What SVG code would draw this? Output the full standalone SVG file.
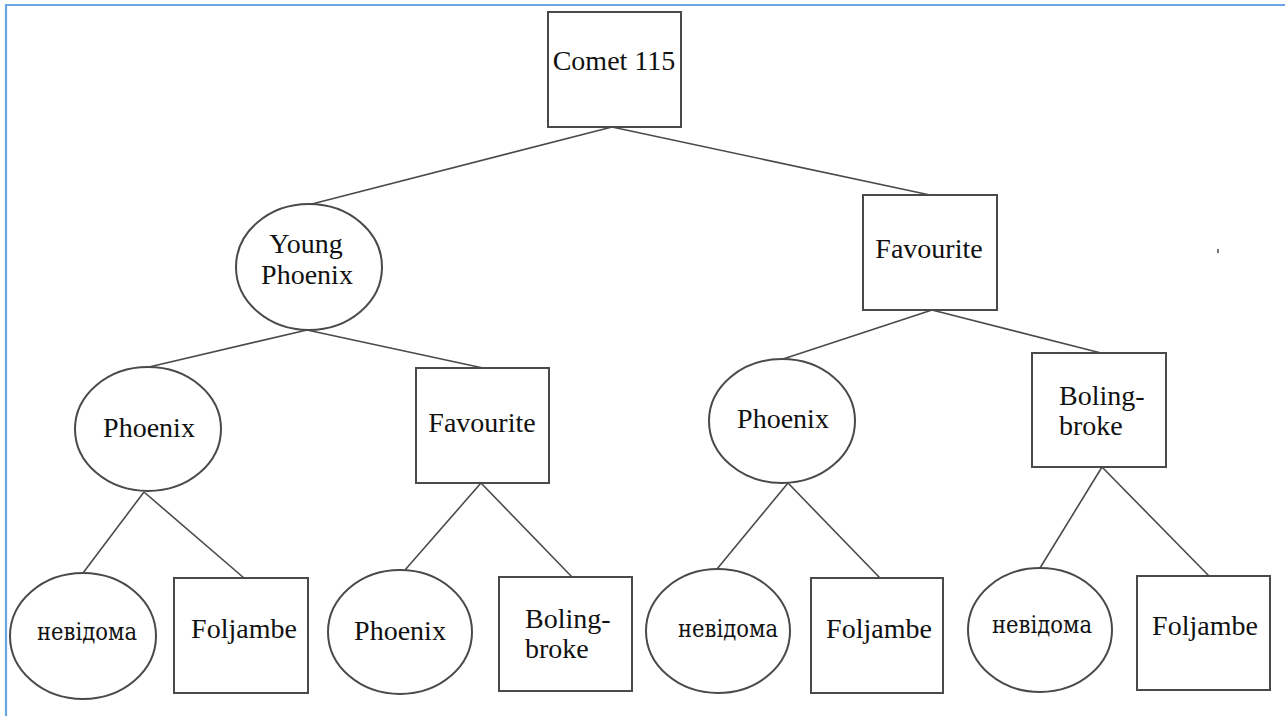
<svg xmlns="http://www.w3.org/2000/svg" width="1285" height="716" viewBox="0 0 1285 716">
<style>
.n{fill:#fff;stroke:#4a4a4a;stroke-width:2}
.t{font-family:"Liberation Serif","Times New Roman",serif;font-size:28px;fill:#111}
.c{text-anchor:middle}
.u{font-family:"DejaVu Serif","Liberation Serif",serif;font-size:24px;fill:#111;text-anchor:middle}
.e{stroke:#4a4a4a;stroke-width:1.6;fill:none}
</style>
<rect width="1285" height="716" fill="#fff"/>
<path d="M6 716 V5 H1285" fill="none" stroke="#6aa6e4" stroke-width="2.2"/>
<g id="connectors">
<line class="e" x1="612" y1="127" x2="308" y2="205"/>
<line class="e" x1="612" y1="127" x2="930" y2="195"/>
<line class="e" x1="307" y1="330" x2="149" y2="367"/>
<line class="e" x1="307" y1="330" x2="483" y2="368"/>
<line class="e" x1="932" y1="310" x2="783" y2="359"/>
<line class="e" x1="932" y1="310" x2="1101" y2="353"/>
<line class="e" x1="144" y1="492" x2="83" y2="573"/>
<line class="e" x1="144" y1="492" x2="244" y2="578"/>
<line class="e" x1="481" y1="483" x2="405" y2="570"/>
<line class="e" x1="481" y1="483" x2="572" y2="577"/>
<line class="e" x1="788" y1="483" x2="717" y2="569"/>
<line class="e" x1="788" y1="483" x2="880" y2="578"/>
<line class="e" x1="1102" y1="467" x2="1040" y2="568"/>
<line class="e" x1="1102" y1="467" x2="1209" y2="576"/>
</g>
<g id="comet115"><rect class="n" x="548" y="12" width="133" height="115"/><text class="t c" x="614" y="70">Comet 115</text></g>
<g id="young-phoenix"><ellipse class="n" cx="309" cy="267" rx="73" ry="63"/><text class="t c" x="306" y="253">Young</text><text class="t c" x="307" y="284">Phoenix</text></g>
<g id="favourite-1"><rect class="n" x="863" y="195" width="134" height="115"/><text class="t c" x="929" y="258">Favourite</text></g>
<g id="phoenix-2a"><ellipse class="n" cx="148" cy="429" rx="73" ry="62"/><text class="t c" x="149" y="437">Phoenix</text></g>
<g id="favourite-2"><rect class="n" x="416" y="368" width="133" height="115"/><text class="t c" x="482" y="432">Favourite</text></g>
<g id="phoenix-2b"><ellipse class="n" cx="782" cy="421" rx="73" ry="62"/><text class="t c" x="783" y="428">Phoenix</text></g>
<g id="bolingbroke-2"><rect class="n" x="1032" y="353" width="134" height="114"/><text class="t" x="1059" y="405">Boling-</text><text class="t" x="1059" y="435">broke</text></g>
<g id="nevidoma-1"><ellipse class="n" cx="83" cy="636" rx="73" ry="63"/><text class="u" x="87" y="640" textLength="100" lengthAdjust="spacingAndGlyphs">невідома</text></g>
<g id="foljambe-1"><rect class="n" x="174" y="578" width="134" height="115"/><text class="t c" x="244" y="638">Foljambe</text></g>
<g id="phoenix-3"><ellipse class="n" cx="400" cy="632" rx="72" ry="62"/><text class="t c" x="400" y="640">Phoenix</text></g>
<g id="bolingbroke-3"><rect class="n" x="499" y="577" width="133" height="114"/><text class="t" x="525" y="628">Boling-</text><text class="t" x="525" y="658">broke</text></g>
<g id="nevidoma-2"><ellipse class="n" cx="718" cy="631" rx="72" ry="62"/><text class="u" x="728" y="637" textLength="100" lengthAdjust="spacingAndGlyphs">невідома</text></g>
<g id="foljambe-2"><rect class="n" x="811" y="578" width="132" height="115"/><text class="t c" x="879" y="638">Foljambe</text></g>
<g id="nevidoma-3"><ellipse class="n" cx="1040" cy="630" rx="72" ry="62"/><text class="u" x="1042" y="633" textLength="100" lengthAdjust="spacingAndGlyphs">невідома</text></g>
<g id="foljambe-3"><rect class="n" x="1137" y="576" width="133" height="114"/><text class="t c" x="1205" y="635">Foljambe</text></g>
<rect x="1217" y="249" width="2" height="4" fill="#777"/>
</svg>
